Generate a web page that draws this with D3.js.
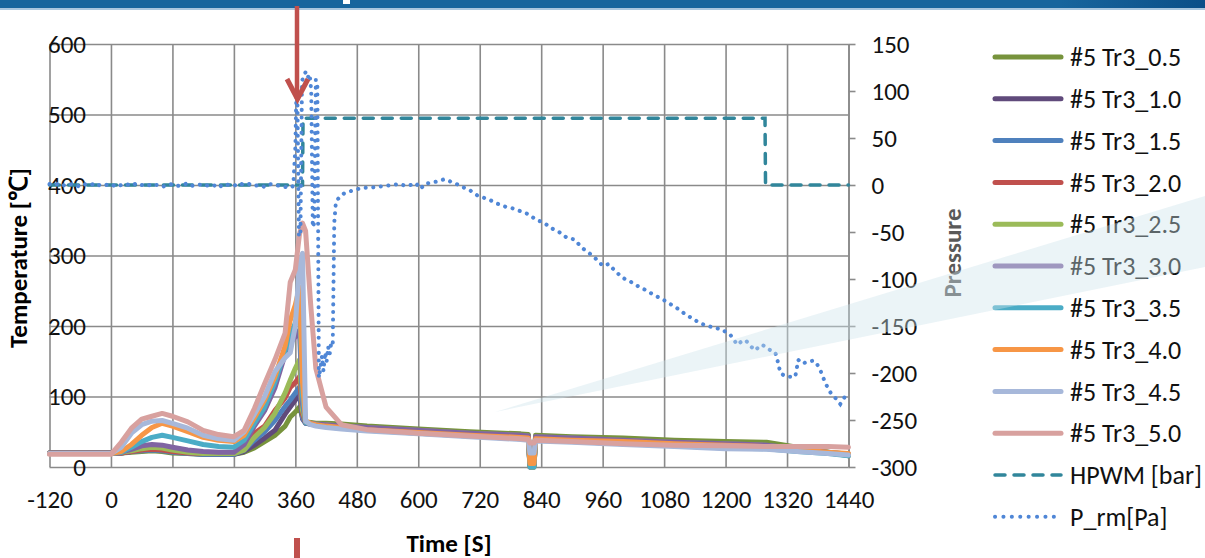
<!DOCTYPE html>
<html>
<head>
<meta charset="utf-8">
<script src="https://cdn.jsdelivr.net/npm/d3@7"></script>
<style>
  body { margin: 0; background: #fff; }
  svg { display: block; font-family: Carlito, Calibri, "Open Sans", sans-serif; }
</style>
</head>
<body>
<div id="chart"></div>
<script>
// ---- data ----
const tTimes = [-120, 0, 20, 40, 60, 80, 100, 120, 150, 180, 210, 240, 260, 280, 300, 320, 340, 350, 360, 368, 374, 380, 390, 400, 420, 450, 500, 600, 700, 800, 815, 818, 826, 829, 900, 1000, 1100, 1200, 1280, 1340, 1400, 1440];

const t05 = [20,20,20,21,22,23,22,20,19,18,18,18,21,27,36,45,58,71,78,85,70,64,63,62,62,61,58,54,50,47,46,0,0,45,43,41,38,36,35,28,21,16];
const t10 = [20,20,20,22,25,30,30,25,20,18,18,18,22,31,41,52,75,85,95,105,68,62,61,60,59,58,56,52,48,45,44,2,2,43,41,38,35,33,31,26,20,17];
const t15 = [20,20,20,22,23,24,23,21,19,18,18,18,24,38,50,66,86,95,105,113,70,62,61,60,59,57,55,51,47,44,43,0,0,42,40,37,34,32,30,25,20,17];
const t20 = [20,20,20,22,24,25,24,22,20,19,19,19,30,48,58,80,98,113,120,128,75,63,61,60,59,57,55,51,47,44,43,0,0,42,40,37,34,32,30,25,20,17];
const t25 = [20,20,21,23,26,28,27,24,21,19,19,19,24,42,56,76,105,123,140,152,80,64,62,61,60,58,56,52,48,45,44,0,0,43,41,38,35,33,31,26,21,18];
const t30 = [20,20,21,25,30,32,31,28,24,22,21,21,32,58,80,112,160,176,185,194,90,64,62,61,60,58,56,52,48,45,44,4,4,43,41,38,35,33,31,26,21,18];
const t35 = [19,19,21,28,36,42,45,42,37,32,29,28,38,62,85,120,165,184,205,227,100,63,61,60,57,55,52,48,44,40,39,0,0,38,36,33,30,27,26,22,19,16];
const t40 = [19,19,22,32,45,56,62,58,50,42,38,36,45,70,95,128,172,208,230,255,120,65,62,60,58,56,53,49,45,42,41,5,5,40,38,36,33,31,29,25,21,19];
const t45 = [19,19,28,48,60,65,66,62,55,45,40,38,50,75,100,135,155,162,200,290,303,65,60,58,56,54,51,47,43,39,38,20,20,37,35,32,29,26,25,22,19,17];
const t50 = [18,18,35,55,68,72,76,72,64,52,46,43,52,83,118,152,190,262,280,330,346,335,230,140,85,60,53,48,44,40,39,34,34,38,36,33,31,30,29,29,29,28];

const tempNames = ["#5 Tr3_0.5", "#5 Tr3_1.0", "#5 Tr3_1.5", "#5 Tr3_2.0", "#5 Tr3_2.5",
                   "#5 Tr3_3.0", "#5 Tr3_3.5", "#5 Tr3_4.0", "#5 Tr3_4.5", "#5 Tr3_5.0"];
const tempColors = ["#77933c", "#604a7b", "#4f81bd", "#c0504d", "#9bbb59",
                    "#8064a2", "#4bacc6", "#f79646", "#a7b8da", "#d8a19f"];
const tempValues = [t05, t10, t15, t20, t25, t30, t35, t40, t45, t50];

// HPWM [bar] (right axis)
const hTimes = [-120, 374, 375, 1277, 1278, 1440];
const hValues = [0, 0, 71, 71, 0, 0];

// P_rm[Pa] (right axis)
const pTimes = [-120,-110,-100,-90,-80,-70,-60,-50,-40,-30,-20,-10,0,10,20,30,40,50,60,70,80,90,100,110,120,130,140,150,160,170,180,190,200,210,220,230,240,250,260,270,280,290,300,310,320,330,340,350,
  354,356,360,362,364,367,370,373,376,380,384,388,391,394,397,400,403,406,409,412,415,418,421,424,427,430,433,436,439,443,448,455,465,478,490,
  505,520,535,550,565,575,585,595,605,612,620,630,640,650,658,665,675,685,695,705,715,725,740,755,770,785,800,815,830,845,860,875,890,905,920,935,950,960,972,985,1000,
  1015,1030,1045,1060,1075,1090,1105,1120,1135,1150,1165,1180,1194,1210,1223,1232,1239,1250,1258,1265,1272,1285,1297,1302,1307,1315,1323,1336,1342,1350,1360,1370,1376,1385,1395,1405,1415,1424,1432,1440];
const pValues = [1,0,2,-1,1,0,-2,1,0,2,-1,0,1,-2,0,1,-1,2,0,-1,1,0,-2,0,1,-1,0,2,-1,0,1,-1,0,-3,1,0,-1,2,0,1,-1,0,-2,1,0,-1,-2,-3,
  -2,0,40,98,95,-55,-50,110,116,120,114,118,100,-45,-40,112,105,-205,-195,-182,-198,-178,-188,-172,-180,-168,-170,-40,-19,-15,-12,-9,-7,-5,-3,
  -3,-2,-1,0,1,-1,0,2,-4,1,2,3,4,6,5,3,1,-2,-4,-7,-11,-13,-16,-20,-23,-25,-28,-31,-37,-40,-46,-50,-56,-58,-67,-73,-80,-86,-84,-92,-99,
  -103,-108,-112,-117,-121,-126,-131,-137,-142,-147,-150,-152,-154,-160,-170,-166,-165,-172,-176,-172,-170,-175,-178,-188,-200,-203,-204,-204,-186,-190,-188,-187,-188,-197,-211,-221,-227,-233,-226,-230];

const xTicks = d3.range(-120, 1441, 120);
const tempTicks = d3.range(0, 601, 100);
const presTicks = d3.range(-300, 151, 50);

// ---- drawing ----
const W = 1205, H = 558;
const plot = { left: 49.5, right: 848.5, top: 44, bottom: 467 };
const FONT = 'Carlito, Calibri, "Open Sans", sans-serif';
const TICK_FS = 25;
const plain = d => String(d);   // keep "-120", "1440" as Excel prints them

const svg = d3.select("#chart").append("svg").attr("width", W).attr("height", H);

const x = d3.scaleLinear().domain([-120, 1440]).range([plot.left, plot.right]);
const yT = d3.scaleLinear().domain([0, 600]).range([plot.bottom, plot.top]);
const yP = d3.scaleLinear().domain([-300, 150]).range([plot.bottom, plot.top]);

// slide banner
const grad = svg.append("defs").append("linearGradient").attr("id", "ban");
grad.append("stop").attr("offset", "0").attr("stop-color", "#17659d");
grad.append("stop").attr("offset", "0.88").attr("stop-color", "#17659d");
grad.append("stop").attr("offset", "1").attr("stop-color", "#0b4f88");
svg.append("rect").attr("x", 0).attr("y", 0).attr("width", W).attr("height", 8).attr("fill", "url(#ban)");
svg.append("rect").attr("x", 0).attr("y", 8).attr("width", W).attr("height", 2).attr("fill", "#a9c6de");
svg.append("rect").attr("x", 343).attr("y", 0).attr("width", 7).attr("height", 4).attr("fill", "#fff");

// grid
svg.append("g")
  .attr("transform", `translate(0,${plot.bottom})`)
  .call(d3.axisBottom(x).tickValues(xTicks).tickSize(-(plot.bottom - plot.top)).tickFormat(""))
  .call(g => g.select(".domain").remove())
  .call(g => g.selectAll("line").attr("stroke", "#8a8a8a").attr("stroke-width", 1.6));

svg.append("g")
  .attr("transform", `translate(${plot.left},0)`)
  .call(d3.axisLeft(yT).tickValues(tempTicks).tickSize(-(plot.right - plot.left)).tickFormat(""))
  .call(g => g.select(".domain").remove())
  .call(g => g.selectAll("line").attr("stroke", "#8a8a8a").attr("stroke-width", 1.6));

// right axis with outward ticks
svg.append("g")
  .attr("transform", `translate(${plot.right},0)`)
  .call(d3.axisRight(yP).tickValues(presTicks).tickFormat(plain).tickSize(7).tickSizeOuter(0).tickPadding(16))
  .call(g => g.select(".domain").attr("stroke", "#8a8a8a").attr("stroke-width", 1.6))
  .call(g => g.selectAll("line").attr("stroke", "#8a8a8a").attr("stroke-width", 1.6))
  .call(g => g.selectAll("text").attr("font-size", TICK_FS).attr("fill", "#111").attr("font-family", FONT));

// left labels (they sit over the plot edge, as in the source)
svg.append("g")
  .attr("transform", "translate(89,0)")
  .call(d3.axisLeft(yT).tickValues(tempTicks).tickFormat(plain).tickSize(0).tickPadding(3))
  .call(g => g.select(".domain").remove())
  .call(g => g.selectAll("text").attr("font-size", TICK_FS).attr("fill", "#111").attr("font-family", FONT));

// bottom labels
svg.append("g")
  .attr("transform", `translate(0,${plot.bottom})`)
  .call(d3.axisBottom(x).tickValues(xTicks).tickFormat(plain).tickSize(0).tickPadding(23))
  .call(g => g.select(".domain").remove())
  .call(g => g.selectAll("text").attr("font-size", TICK_FS).attr("fill", "#111").attr("font-family", FONT));

// axis titles
svg.append("text")
  .attr("transform", "translate(27,258) rotate(-90)")
  .attr("text-anchor", "middle")
  .style("font-size", "25px").style("font-weight", "bold")
  .text("Temperature [℃]");

svg.append("text")
  .attr("transform", "translate(961,253) rotate(-90)")
  .attr("text-anchor", "middle")
  .style("font-size", "25px").style("font-weight", "bold").style("fill", "#595959")
  .text("Pressure");

svg.append("text")
  .attr("x", 449).attr("y", 552)
  .attr("text-anchor", "middle")
  .style("font-size", "25px").style("font-weight", "bold")
  .text("Time [S]");

// temperature lines
const tempLine = d3.line().x((d, i) => x(tTimes[i])).y(d => yT(d));
tempValues.forEach((vals, k) => {
  svg.append("path")
    .datum(vals)
    .attr("fill", "none")
    .attr("stroke", tempColors[k])
    .attr("stroke-width", 5)
    .attr("stroke-linejoin", "round")
    .attr("stroke-linecap", "round")
    .attr("d", tempLine);
});

// HPWM dashed
svg.append("path")
  .datum(hValues)
  .attr("fill", "none")
  .attr("stroke", "#31869b")
  .attr("stroke-width", 3.5)
  .attr("stroke-dasharray", "10 9")
  .attr("stroke-linecap", "round")
  .attr("d", d3.line().x((d, i) => x(hTimes[i])).y(d => yP(d)));

// P_rm dotted
svg.append("path")
  .datum(pValues)
  .attr("fill", "none")
  .attr("stroke", "#4f86d6")
  .attr("stroke-width", 4)
  .attr("stroke-dasharray", "0.1 7.5")
  .attr("stroke-linecap", "round")
  .attr("d", d3.line().x((d, i) => x(pTimes[i])).y(d => yP(d)));

// legend
const legNames = tempNames.concat(["HPWM [bar]", "P_rm[Pa]"]);
const leg = svg.append("g").attr("transform", "translate(993,57)");
legNames.forEach((name, i) => {
  const row = leg.append("g").attr("transform", `translate(0,${i * 41.8})`);
  const ln = row.append("line").attr("x1", 2).attr("x2", 68).attr("y1", 0).attr("y2", 0)
    .attr("stroke-linecap", "round");
  if (i < 10) {
    ln.attr("stroke", tempColors[i]).attr("stroke-width", 5);
  } else if (i === 10) {
    ln.attr("stroke", "#31869b").attr("stroke-width", 3.5).attr("stroke-dasharray", "10 9");
  } else {
    ln.attr("x2", 66).attr("stroke", "#4f86d6").attr("stroke-width", 4).attr("stroke-dasharray", "0.1 8.3");
  }
  row.append("text").attr("x", 77).attr("y", 0).attr("dy", "0.35em")
    .style("font-size", "26px").style("fill", "#111").text(name);
});

// red arrow markers
const red = "#c0504d";
svg.append("line").attr("x1", 297).attr("x2", 297).attr("y1", 6).attr("y2", 99)
  .attr("stroke", red).attr("stroke-width", 4.5);
svg.append("path").attr("d", "M287,79 L297.5,99 L308,79")
  .attr("fill", "none").attr("stroke", red).attr("stroke-width", 5).attr("stroke-linejoin", "miter");
svg.append("rect").attr("x", 294).attr("y", 538).attr("width", 6).attr("height", 20).attr("fill", red);

// pale slide wedge on top
svg.append("polygon")
  .attr("points", "495,412 1205,196 1205,267")
  .attr("fill", "rgb(205,228,236)").attr("fill-opacity", 0.4);
</script>
</body>
</html>
